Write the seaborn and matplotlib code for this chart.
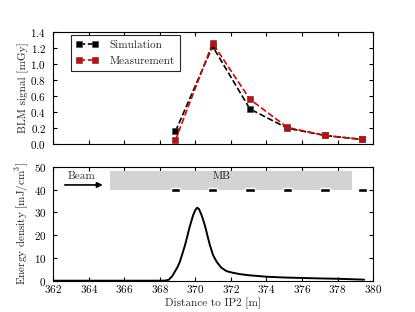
import matplotlib
matplotlib.use("Agg")
import matplotlib.pyplot as plt
import seaborn as sns

# BLM positions and signals [mGy]
blm_pos = [368.88, 370.97, 373.07, 375.18, 377.30, 379.40]
sim_signal = [0.16, 1.22, 0.44, 0.20, 0.11, 0.06]
meas_signal = [0.05, 1.26, 0.56, 0.21, 0.11, 0.06]

# energy density profile [mJ/cm^3]
dist = [362.0, 368.0, 368.3, 368.5, 368.7, 368.85, 369.0, 369.13, 369.3, 369.42,
        369.55, 369.66, 369.78, 369.88, 370.0, 370.1, 370.2, 370.35, 370.47, 370.58,
        370.7, 370.82, 371.0, 371.2, 371.45, 371.75, 372.1, 372.5, 373.0, 374.0,
        375.0, 376.0, 377.0, 378.0, 379.0, 379.5]
edens = [0.0, 0.0, 0.05, 0.4, 2.0, 4.0, 6.0, 8.3, 12.5, 15.6,
         19.5, 23.0, 26.2, 28.8, 31.0, 32.0, 31.5, 28.8, 26.0, 23.0,
         19.2, 15.6, 11.2, 8.3, 5.8, 4.2, 3.5, 2.9, 2.4, 1.75,
         1.4, 1.2, 1.0, 0.85, 0.6, 0.45]

mb_span = [365.2, 378.8]
x_ticks = list(range(362, 381, 2))

sns.set_style("ticks")
plt.rcParams.update({
    "font.family": "serif",
    "font.serif": ["cmr10"],
    "mathtext.fontset": "cm",
    "axes.formatter.use_mathtext": True,
    "axes.unicode_minus": False,
    "font.size": 8,
    "axes.linewidth": 0.8,
    "xtick.direction": "in",
    "ytick.direction": "in",
    "xtick.top": True,
    "ytick.right": True,
    "xtick.major.size": 3,
    "ytick.major.size": 3,
    "xtick.major.pad": 1.5,
    "ytick.major.pad": 5,
    "xtick.color": "k",
    "ytick.color": "k",
    "axes.edgecolor": "k",
})

fig = plt.figure(figsize=(4.15, 3.12), dpi=100)
ax1 = fig.add_axes([0.128, 0.5375, 0.771, 0.3605])
ax2 = fig.add_axes([0.128, 0.1003, 0.771, 0.3654])

# top panel: BLM signals
sns.lineplot(x=blm_pos, y=sim_signal, ax=ax1, color="k", linestyle="--", lw=1.2,
             marker="s", markersize=4.5, markeredgecolor="0.3", markeredgewidth=0.5,
             label="Simulation")
sns.lineplot(x=blm_pos, y=meas_signal, ax=ax1, color="#e00000", linestyle="--", lw=1.2,
             marker="s", markersize=4.5, markeredgecolor="0.3", markeredgewidth=0.5,
             label="Measurement")
ax1.set_xlim(362, 380)
ax1.set_ylim(0, 1.4)
ax1.set_xticks(x_ticks)
ax1.set_xticklabels([])
ax1.set_yticks([0.0, 0.2, 0.4, 0.6, 0.8, 1.0, 1.2, 1.4])
ax1.set_ylabel("BLM signal [mGy]", labelpad=1)
leg = ax1.legend(loc="upper left", bbox_to_anchor=(0.056, 0.971), numpoints=2,
                 fancybox=False, edgecolor="0.15", framealpha=1, borderaxespad=0,
                 handlelength=2.0, handletextpad=1.0, fontsize=8,
                 borderpad=0.45, labelspacing=0.6)
leg.get_frame().set_linewidth(0.8)

# bottom panel: energy density
ax2.fill_between(mb_span, 40, 48, color="#d3d3d3", lw=0)
ax2.bar(blm_pos, 1.6, width=0.55, bottom=39.0, color="k")
sns.lineplot(x=dist, y=edens, ax=ax2, color="k", lw=1.4)
ax2.annotate("", xy=(364.95, 42), xytext=(362.5, 42),
             arrowprops=dict(arrowstyle="-|>", color="k", lw=1.2, mutation_scale=8))
ax2.text(363.6, 45.6, "Beam", ha="center", va="center", fontsize=8)
ax2.text(371.5, 45.6, "MB", ha="center", va="center", fontsize=8)
ax2.set_xlim(362, 380)
ax2.set_ylim(0, 50)
ax2.set_xticks(x_ticks)
ax2.set_yticks([0, 10, 20, 30, 40, 50])
ax2.set_xlabel("Distance to IP2 [m]", labelpad=2)
ax2.set_ylabel("Energy density [mJ/cm$^3$]", labelpad=2)

fig.savefig("out.png", dpi=100)
